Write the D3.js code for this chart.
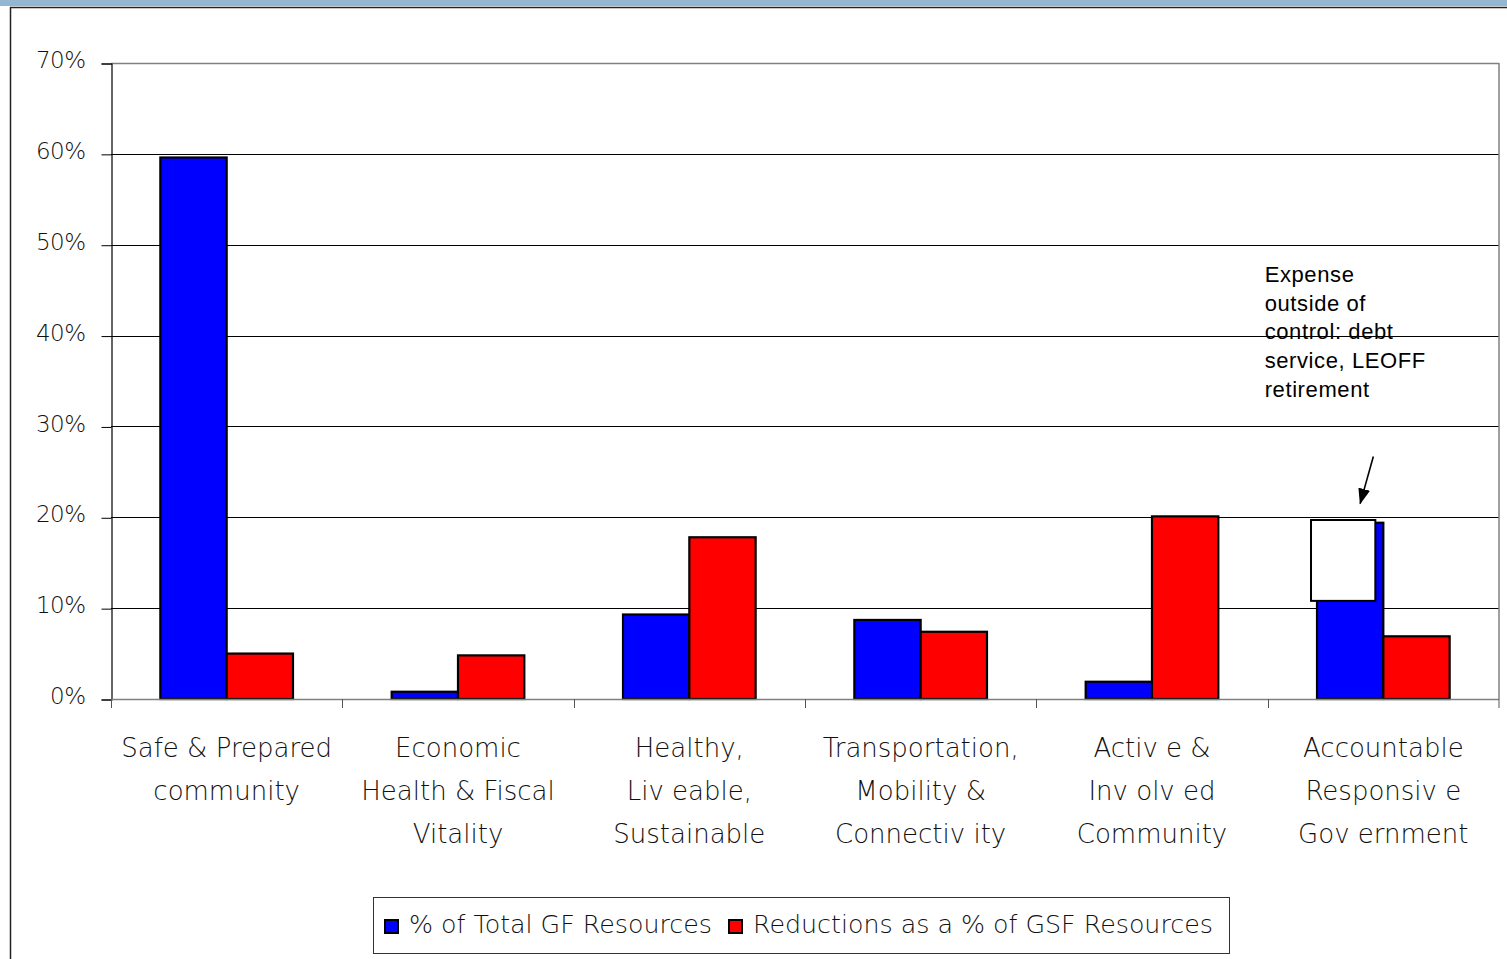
<!DOCTYPE html>
<html>
<head>
<meta charset="utf-8">
<script src="https://cdn.jsdelivr.net/npm/d3@7"></script>
<style>
  body { margin: 0; background: #fff; }
  svg { display: block; }
</style>
</head>
<body>
<div id="chart"></div>
<script>
// categories (each label split into its lines, spacing kept as in the picture)
var categories = ["Safe & Prepared community", "Economic Health & Fiscal Vitality", "Healthy, Liveable, Sustainable",
    "Transportation, Mobility & Connectivity", "Active & Involved Community", "Accountable Responsive Government"];
var categoryLines = [
    ["Safe & Prepared", "community"],
    ["Economic", "Health & Fiscal", "Vitality"],
    ["Healthy,", "Liv eable,", "Sustainable"],
    ["Transportation,", "Mobility &", "Connectiv ity"],
    ["Activ e &", "Inv olv ed", "Community"],
    ["Accountable", "Responsiv e", "Gov ernment"]
];
var seriesNames = ["% of Total GF Resources", "Reductions as a % of GSF Resources"];
var seriesColors = ["#0000ff", "#ff0000"];
var totalGF = [0.596, 0.008, 0.093, 0.087, 0.019, 0.194];
var reductions = [0.050, 0.048, 0.178, 0.074, 0.201, 0.069];
var yTicks = [0, 0.1, 0.2, 0.3, 0.4, 0.5, 0.6, 0.7];

// annotation on the last category
var noteLines = ["Expense", "outside of", "control: debt", "service, LEOFF", "retirement"];
var noteBox = [0.197, 0.108];     // top / bottom of the white box
var noteArrow = [0.267, 0.215];   // arrow start / end
var noteTextTop = 0.459;

var W = 1507, H = 959;
var plotLeft = 111, plotRight = 1499, plotTop = 63, plotBottom = 699;

var svg = d3.select("#chart").append("svg")
    .attr("width", W)
    .attr("height", H);

// header band + frame
svg.append("rect").attr("x", 0).attr("y", 0).attr("width", W).attr("height", 6).attr("fill", "#94b6d2");
svg.append("path")
    .attr("d", "M10.5," + H + "V7.5H" + W)
    .attr("fill", "none")
    .attr("stroke", "#222")
    .attr("stroke-width", 1.5);

var x = d3.scaleBand()
    .domain(categories)
    .range([plotLeft, plotRight]);

var xs = d3.scaleBand()
    .domain(seriesNames)
    .range([0, x.bandwidth()])
    .paddingOuter(0.744);

var y = d3.scaleLinear()
    .domain([0, 0.7])
    .range([plotBottom, plotTop]);

// gridlines
svg.append("g")
    .selectAll("line")
    .data(yTicks.filter(function (d) { return d > 0; }))
    .enter().append("line")
    .attr("x1", plotLeft)
    .attr("x2", plotRight)
    .attr("y1", function (d) { return Math.round(y(d)) + 0.5; })
    .attr("y2", function (d) { return Math.round(y(d)) + 0.5; })
    .attr("stroke", function (d) { return d == 0.7 ? "#808080" : "#000"; })
    .attr("stroke-width", function (d) { return d == 0.7 ? 1.5 : 1; });

// right border of plot area
svg.append("line")
    .attr("x1", plotRight).attr("x2", plotRight)
    .attr("y1", y(0.7)).attr("y2", y(0))
    .attr("stroke", "#808080")
    .attr("stroke-width", 1.5);

// y axis
var yAxis = d3.axisLeft(y)
    .tickValues(yTicks)
    .tickSize(10)
    .tickPadding(0)
    .tickFormat(d3.format(".0%"));

var gy = svg.append("g")
    .attr("transform", "translate(" + (plotLeft + 0.5) + ",0.5)")
    .call(yAxis);
gy.select(".domain").attr("stroke", "#000").attr("stroke-width", 1.2);
gy.selectAll(".tick line").attr("stroke", "#000");
gy.selectAll(".tick text")
    .attr("x", -26)
    .attr("dy", "0.18em")
    .attr("fill", "#111")
    .style("font-family", "'DejaVu Sans', sans-serif")
    .style("font-weight", 300)
    .style("font-size", "23px")
    .style("letter-spacing", "-0.5px");

// bars
var groups = svg.append("g")
    .selectAll("g")
    .data(categories)
    .enter().append("g")
    .attr("transform", function (d) { return "translate(" + x(d) + ",0)"; });

groups.selectAll("rect")
    .data(function (d, i) { return [totalGF[i], reductions[i]]; })
    .enter().append("rect")
    .attr("x", function (d, j) { return xs(seriesNames[j]); })
    .attr("y", function (d) { return y(d); })
    .attr("width", xs.bandwidth())
    .attr("height", function (d) { return y(0) - y(d); })
    .attr("fill", function (d, j) { return seriesColors[j]; })
    .attr("stroke", "#000")
    .attr("stroke-width", 2.2);

// x axis
var xAxisLine = svg.append("g");
xAxisLine.append("line")
    .attr("x1", plotLeft).attr("x2", plotRight)
    .attr("y1", y(0) + 0.5).attr("y2", y(0) + 0.5)
    .attr("stroke", "#808080")
    .attr("stroke-width", 1.5);
xAxisLine.selectAll("line.tick")
    .data(categories.concat(["end"]))
    .enter().append("line")
    .attr("class", "tick")
    .attr("x1", function (d, i) { return i < categories.length ? Math.round(x(d)) + 0.5 : plotRight; })
    .attr("x2", function (d, i) { return i < categories.length ? Math.round(x(d)) + 0.5 : plotRight; })
    .attr("y1", y(0))
    .attr("y2", y(0) + 9)
    .attr("stroke", "#555");

// category labels
groups.append("text")
    .attr("text-anchor", "middle")
    .attr("fill", "#111")
    .style("font-family", "'DejaVu Sans', sans-serif")
    .style("font-weight", 300)
    .style("font-size", "26px")
    .selectAll("tspan")
    .data(function (d, i) { return categoryLines[i]; })
    .enter().append("tspan")
    .attr("x", x.bandwidth() / 2)
    .attr("y", function (d, k) { return 757 + k * 43; })
    .text(function (d) { return d; });

// annotation
var lastCat = categories[categories.length - 1];
var blueX = x(lastCat) + xs(seriesNames[0]);
svg.append("rect")
    .attr("x", blueX - 6)
    .attr("y", y(noteBox[0]))
    .attr("width", xs.bandwidth() - 2)
    .attr("height", y(noteBox[1]) - y(noteBox[0]))
    .attr("fill", "#fff")
    .attr("stroke", "#000")
    .attr("stroke-width", 2);

svg.append("defs").append("marker")
    .attr("id", "arrow")
    .attr("viewBox", "0 0 16 12")
    .attr("refX", 15)
    .attr("refY", 6)
    .attr("markerWidth", 16)
    .attr("markerHeight", 12)
    .attr("markerUnits", "userSpaceOnUse")
    .attr("orient", "auto")
    .append("path")
    .attr("d", "M0,0L16,6L0,12z")
    .attr("fill", "#000");

svg.append("line")
    .attr("x1", blueX + xs.bandwidth() - 10)
    .attr("y1", y(noteArrow[0]))
    .attr("x2", blueX + xs.bandwidth() / 2 + 10)
    .attr("y2", y(noteArrow[1]))
    .attr("stroke", "#000")
    .attr("stroke-width", 1.6)
    .attr("marker-end", "url(#arrow)");

svg.append("text")
    .attr("fill", "#000")
    .style("font-family", "'Liberation Sans', Arial, sans-serif")
    .style("font-size", "22px")
    .style("letter-spacing", "0.6px")
    .selectAll("tspan")
    .data(noteLines)
    .enter().append("tspan")
    .attr("x", x(lastCat) - 3)
    .attr("y", function (d, k) { return y(noteTextTop) + k * 28.7; })
    .text(function (d) { return d; });

// legend
var legend = svg.append("g");
legend.append("rect")
    .attr("x", 373.5).attr("y", 897.5)
    .attr("width", 856).attr("height", 56)
    .attr("fill", "#fff")
    .attr("stroke", "#333")
    .attr("stroke-width", 1);

var legendX = [384, 728];
var items = legend.selectAll("g.item")
    .data(seriesNames)
    .enter().append("g")
    .attr("class", "item")
    .attr("transform", function (d, i) { return "translate(" + legendX[i] + ",0)"; });
items.append("rect")
    .attr("x", 1).attr("y", 920)
    .attr("width", 13).attr("height", 13)
    .attr("fill", function (d, i) { return seriesColors[i]; })
    .attr("stroke", "#000")
    .attr("stroke-width", 2);
items.append("text")
    .attr("x", 25)
    .attr("y", 933)
    .attr("fill", "#111")
    .style("font-family", "'DejaVu Sans', sans-serif")
    .style("font-weight", 300)
    .style("font-size", "25.3px")
    .text(function (d) { return d; });
</script>
</body>
</html>
